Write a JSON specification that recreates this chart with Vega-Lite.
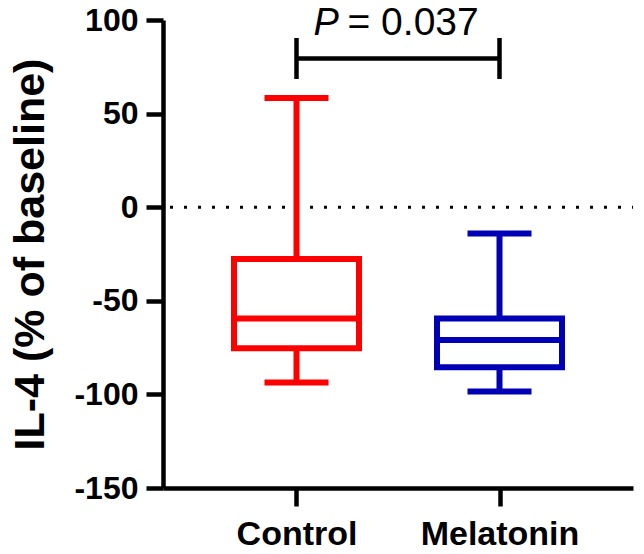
{
  "$schema": "https://vega.github.io/schema/vega-lite/v6.json",
  "width": 470,
  "height": 468,
  "autosize": {"type": "none"},
  "padding": {"left": 163, "top": 20, "right": 11, "bottom": 66},
  "background": "white",
  "config": {"view": {"stroke": null}, "font": "Liberation Sans"},
  "datasets": {
    "stats": [
      {"group": "Control", "min": -93.7, "q1": -75.4, "median": -59.4, "q3": -27.7, "max": 58.3},
      {"group": "Melatonin", "min": -98.5, "q1": -85.5, "median": -70.9, "q3": -59.4, "max": -14.0}
    ],
    "bracket": [
      {"from": "Control", "to": "Melatonin", "p": "P", "rest": "= 0.037"}
    ],
    "reference": [
      {"baseline": 0}
    ]
  },
  "layer": [
    {
      "data": {"name": "reference"},
      "mark": {"type": "rule", "color": "black", "strokeWidth": 3, "strokeDash": [3, 11], "strokeDashOffset": 2},
      "encoding": {
        "y": {
          "field": "baseline",
          "type": "quantitative",
          "scale": {"domain": [-150, 100], "nice": false, "zero": false},
          "axis": {
            "values": [-150, -100, -50, 0, 50, 100],
            "labelExpr": "'' + datum.value",
            "grid": false,
            "domainColor": "black",
            "domainWidth": 4.5,
            "tickColor": "black",
            "tickWidth": 4.5,
            "tickSize": 17,
            "labelFontSize": 32,
            "labelFontWeight": "bold",
            "labelColor": "black",
            "labelPadding": 8,
            "title": "IL-4 (% of baseline)",
            "titleFontSize": 43,
            "titleFontWeight": "bold",
            "titleColor": "black",
            "titleX": -120,
            "titleBaseline": "alphabetic"
          }
        }
      }
    },
    {
      "data": {"name": "stats"},
      "mark": {"type": "rule", "strokeWidth": 6},
      "encoding": {
        "x": {
          "field": "group",
          "type": "nominal",
          "scale": {"type": "point", "domain": ["Control", "Melatonin"], "padding": 0.6576},
          "axis": {
            "title": null,
            "labelAngle": 0,
            "grid": false,
            "domainColor": "black",
            "domainWidth": 4.5,
            "tickColor": "black",
            "tickWidth": 4.5,
            "tickSize": 18,
            "labelFontSize": 34,
            "labelFontWeight": "bold",
            "labelColor": "black",
            "labelPadding": 11
          }
        },
        "y": {"field": "min", "type": "quantitative"},
        "y2": {"field": "max"},
        "color": {"field": "group", "type": "nominal", "scale": {"domain": ["Control", "Melatonin"], "range": ["#ff0000", "#0000b4"]}, "legend": null}
      }
    },
    {
      "data": {"name": "stats"},
      "mark": {"type": "bar", "size": 125, "fill": "white", "strokeWidth": 6},
      "encoding": {
        "x": {"field": "group", "type": "nominal"},
        "y": {"field": "q1", "type": "quantitative"},
        "y2": {"field": "q3"},
        "stroke": {"field": "group", "type": "nominal", "scale": {"domain": ["Control", "Melatonin"], "range": ["#ff0000", "#0000b4"]}, "legend": null}
      }
    },
    {
      "data": {"name": "stats"},
      "mark": {"type": "tick", "size": 125, "thickness": 6, "opacity": 1},
      "encoding": {
        "x": {"field": "group", "type": "nominal"},
        "y": {"field": "median", "type": "quantitative"},
        "color": {"field": "group", "type": "nominal", "scale": {"domain": ["Control", "Melatonin"], "range": ["#ff0000", "#0000b4"]}, "legend": null}
      }
    },
    {
      "data": {"name": "stats"},
      "mark": {"type": "tick", "size": 64, "thickness": 6, "opacity": 1},
      "encoding": {
        "x": {"field": "group", "type": "nominal"},
        "y": {"field": "min", "type": "quantitative"},
        "color": {"field": "group", "type": "nominal", "scale": {"domain": ["Control", "Melatonin"], "range": ["#ff0000", "#0000b4"]}, "legend": null}
      }
    },
    {
      "data": {"name": "stats"},
      "mark": {"type": "tick", "size": 64, "thickness": 6, "opacity": 1},
      "encoding": {
        "x": {"field": "group", "type": "nominal"},
        "y": {"field": "max", "type": "quantitative"},
        "color": {"field": "group", "type": "nominal", "scale": {"domain": ["Control", "Melatonin"], "range": ["#ff0000", "#0000b4"]}, "legend": null}
      }
    },
    {
      "data": {"name": "bracket"},
      "mark": {"type": "rule", "color": "black", "strokeWidth": 4.5},
      "encoding": {
        "x": {"field": "from", "type": "nominal"},
        "x2": {"field": "to"},
        "y": {"datum": 79.5}
      }
    },
    {
      "data": {"name": "bracket"},
      "mark": {"type": "rule", "color": "black", "strokeWidth": 4.5},
      "encoding": {
        "x": {"field": "from", "type": "nominal"},
        "y": {"datum": 68.5},
        "y2": {"datum": 90.4}
      }
    },
    {
      "data": {"name": "bracket"},
      "mark": {"type": "rule", "color": "black", "strokeWidth": 4.5},
      "encoding": {
        "x": {"field": "to", "type": "nominal"},
        "y": {"datum": 68.5},
        "y2": {"datum": 90.4}
      }
    },
    {
      "data": {"name": "bracket"},
      "mark": {"type": "text", "align": "left", "baseline": "alphabetic", "fontSize": 38, "fontStyle": "italic", "color": "black", "dx": 17},
      "encoding": {
        "x": {"field": "from", "type": "nominal"},
        "y": {"datum": 92},
        "text": {"field": "p"}
      }
    },
    {
      "data": {"name": "bracket"},
      "mark": {"type": "text", "align": "left", "baseline": "alphabetic", "fontSize": 39, "color": "black", "dx": 51},
      "encoding": {
        "x": {"field": "from", "type": "nominal"},
        "y": {"datum": 92},
        "text": {"field": "rest"}
      }
    }
  ]
}
